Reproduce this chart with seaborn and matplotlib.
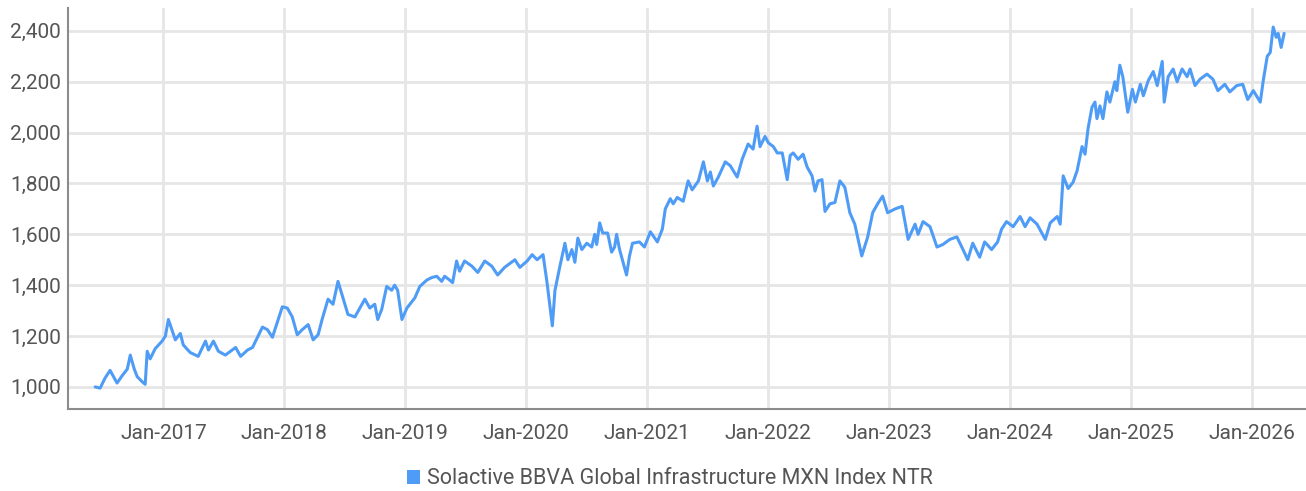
import matplotlib
matplotlib.use("Agg")
import matplotlib.pyplot as plt
import matplotlib.dates as mdates
from matplotlib.patches import Patch
from matplotlib.ticker import FuncFormatter
import numpy as np
import pandas as pd
import seaborn as sns

# ── Data ────────────────────────────────────────────────────────────────────
SERIES_NAME = "Solactive BBVA Global Infrastructure MXN Index NTR"

dates = [
    "2016-06-09", "2016-06-24", "2016-07-09", "2016-07-24", "2016-08-14", "2016-08-30",
    "2016-09-14", "2016-09-23", "2016-10-05", "2016-10-14", "2016-10-29", "2016-11-07",
    "2016-11-13", "2016-11-22", "2016-12-07", "2016-12-28",
    "2017-01-07", "2017-01-16", "2017-02-06", "2017-02-21", "2017-03-02", "2017-03-23",
    "2017-04-16", "2017-05-08", "2017-05-17", "2017-06-01", "2017-06-16", "2017-07-07",
    "2017-08-07", "2017-08-22", "2017-09-12", "2017-09-27", "2017-10-12", "2017-10-27",
    "2017-11-11", "2017-11-26", "2017-12-11", "2017-12-26",
    "2018-01-10", "2018-01-25", "2018-02-09", "2018-02-24", "2018-03-14", "2018-03-29",
    "2018-04-13", "2018-04-25", "2018-05-13", "2018-05-28", "2018-06-12", "2018-06-27",
    "2018-07-12", "2018-08-02", "2018-08-17", "2018-09-01", "2018-09-16", "2018-10-01",
    "2018-10-10", "2018-10-22", "2018-11-06", "2018-11-21", "2018-11-30", "2018-12-09",
    "2018-12-22",
    "2019-01-06", "2019-01-30", "2019-02-14", "2019-03-07", "2019-03-22", "2019-04-06",
    "2019-04-21", "2019-04-30", "2019-05-15", "2019-05-24", "2019-06-05", "2019-06-14",
    "2019-06-29", "2019-07-21", "2019-08-08", "2019-08-29", "2019-09-19", "2019-10-07",
    "2019-10-28", "2019-11-28", "2019-12-13",
    "2020-01-04", "2020-01-19", "2020-02-03", "2020-02-21", "2020-03-04", "2020-03-20",
    "2020-03-28", "2020-04-12", "2020-04-27", "2020-05-06", "2020-05-18", "2020-05-27",
    "2020-06-05", "2020-06-17", "2020-07-02", "2020-07-17", "2020-07-26", "2020-08-01",
    "2020-08-10", "2020-08-19", "2020-09-03", "2020-09-15", "2020-09-24", "2020-09-30",
    "2020-10-09", "2020-10-30", "2020-11-08", "2020-11-17", "2020-12-08", "2020-12-23",
    "2021-01-10", "2021-01-31", "2021-02-15", "2021-02-24", "2021-03-11", "2021-03-20",
    "2021-04-01", "2021-04-19", "2021-05-04", "2021-05-16", "2021-06-04", "2021-06-19",
    "2021-07-01", "2021-07-10", "2021-07-19", "2021-08-03", "2021-08-24", "2021-09-08",
    "2021-09-29", "2021-10-14", "2021-11-01", "2021-11-16", "2021-11-28", "2021-12-07",
    "2021-12-22",
    "2022-01-01", "2022-01-16", "2022-01-28", "2022-02-12", "2022-02-27", "2022-03-08",
    "2022-03-17", "2022-04-01", "2022-04-16", "2022-04-28", "2022-05-13", "2022-05-22",
    "2022-05-31", "2022-06-12", "2022-06-21", "2022-07-06", "2022-07-21", "2022-08-05",
    "2022-08-20", "2022-09-04", "2022-09-19", "2022-10-10", "2022-10-28", "2022-11-12",
    "2022-11-27", "2022-12-12", "2022-12-27",
    "2023-01-19", "2023-02-09", "2023-02-27", "2023-03-20", "2023-03-29", "2023-04-13",
    "2023-05-04", "2023-05-25", "2023-06-12", "2023-07-03", "2023-07-24", "2023-08-08",
    "2023-08-26", "2023-09-10", "2023-10-01", "2023-10-16", "2023-11-06", "2023-11-24",
    "2023-12-06", "2023-12-21",
    "2024-01-10", "2024-01-31", "2024-02-15", "2024-03-01", "2024-03-22", "2024-04-16",
    "2024-05-01", "2024-05-22", "2024-05-31", "2024-06-09", "2024-06-24", "2024-07-09",
    "2024-07-21", "2024-08-05", "2024-08-14", "2024-08-23", "2024-09-04", "2024-09-13",
    "2024-09-19", "2024-09-28", "2024-10-07", "2024-10-19", "2024-10-28", "2024-11-12",
    "2024-11-18", "2024-11-27", "2024-12-06", "2024-12-21",
    "2025-01-04", "2025-01-13", "2025-01-28", "2025-02-06", "2025-02-21", "2025-03-08",
    "2025-03-20", "2025-04-04", "2025-04-10", "2025-04-22", "2025-05-07", "2025-05-19",
    "2025-06-03", "2025-06-18", "2025-06-27", "2025-07-12", "2025-07-27", "2025-08-17",
    "2025-09-04", "2025-09-19", "2025-10-10", "2025-10-25", "2025-11-15", "2025-12-03",
    "2025-12-18",
    "2026-01-04", "2026-01-25", "2026-02-03", "2026-02-15", "2026-02-24", "2026-03-05",
    "2026-03-14", "2026-03-20", "2026-03-29", "2026-04-07",
]

values = [
    1000, 995, 1035, 1065, 1015, 1045,
    1070, 1125, 1070, 1040, 1020, 1010,
    1140, 1110, 1150, 1180,
    1200, 1265, 1185, 1210, 1165, 1135,
    1120, 1180, 1145, 1180, 1140, 1125,
    1155, 1120, 1145, 1155, 1195, 1235,
    1225, 1195, 1255, 1315,
    1310, 1275, 1205, 1225, 1245, 1185,
    1205, 1265, 1345, 1325, 1415, 1350,
    1285, 1275, 1310, 1345, 1310, 1325,
    1265, 1305, 1395, 1380, 1400, 1380,
    1265,
    1310, 1350, 1395, 1420, 1430, 1435,
    1415, 1435, 1420, 1410, 1495, 1455,
    1495, 1475, 1450, 1495, 1475, 1440,
    1470, 1500, 1470,
    1495, 1520, 1500, 1520, 1410, 1240,
    1380, 1475, 1565, 1500, 1540, 1490,
    1585, 1540, 1565, 1550, 1600, 1560,
    1645, 1605, 1605, 1530, 1550, 1600,
    1540, 1440, 1515, 1565, 1570, 1550,
    1610, 1570, 1620, 1700, 1740, 1720,
    1745, 1730, 1810, 1775, 1810, 1885,
    1810, 1845, 1790, 1825, 1885, 1870,
    1825, 1895, 1955, 1935, 2025, 1945,
    1985,
    1960, 1945, 1920, 1920, 1815, 1910,
    1920, 1895, 1915, 1865, 1830, 1770,
    1810, 1815, 1690, 1720, 1725, 1810,
    1785, 1685, 1640, 1515, 1590, 1685,
    1720, 1750, 1685,
    1700, 1710, 1580, 1640, 1600, 1650,
    1630, 1550, 1560, 1580, 1590, 1550,
    1500, 1565, 1510, 1570, 1540, 1570,
    1620, 1650,
    1630, 1670, 1630, 1665, 1640, 1580,
    1645, 1670, 1640, 1830, 1780, 1805,
    1850, 1945, 1915, 2015, 2100, 2120,
    2055, 2105, 2055, 2160, 2120, 2200,
    2165, 2265, 2220, 2080,
    2170, 2120, 2190, 2145, 2205, 2240,
    2185, 2280, 2120, 2220, 2250, 2200,
    2250, 2220, 2250, 2185, 2210, 2230,
    2210, 2165, 2190, 2160, 2185, 2190,
    2130,
    2165, 2120, 2205, 2300, 2315, 2415,
    2375, 2390, 2335, 2390,
]

y_ticks = [1000, 1200, 1400, 1600, 1800, 2000, 2200, 2400]
x_tick_years = [2017, 2018, 2019, 2020, 2021, 2022, 2023, 2024, 2025, 2026]

# ── Styling ─────────────────────────────────────────────────────────────────
LINE_COLOR = "#4f9cf7"
TEXT_COLOR = "#555555"
GRID_COLOR = "#e6e6e6"
SPINE_COLOR = "#8c8c8c"
FONT_SIZE = 15

sns.set_style("white")
plt.rcParams["font.family"] = ["Roboto", "DejaVu Sans"]

df = pd.DataFrame({"date": pd.to_datetime(dates), "value": values})

fig = plt.figure(figsize=(13.06, 4.91), dpi=100)
ax = fig.add_axes([68 / 1306, 1 - 409 / 491, 1 - 68 / 1306, (409 - 8) / 491])

sns.lineplot(data=df, x="date", y="value", ax=ax, color=LINE_COLOR,
             linewidth=2.2, legend=False)

ax.set_xlim(pd.Timestamp("2016-03-19"), pd.Timestamp("2026-06-12"))
ax.set_ylim(913, 2490)

ax.set_xticks([pd.Timestamp(f"{y}-01-01") for y in x_tick_years])
ax.xaxis.set_major_formatter(mdates.DateFormatter("%b-%Y"))
ax.set_yticks(y_ticks)
ax.yaxis.set_major_formatter(FuncFormatter(lambda v, _: f"{v:,.0f}"))

ax.grid(True, color=GRID_COLOR, linewidth=2.0)
ax.set_axisbelow(True)
ax.tick_params(axis="both", length=0, labelsize=FONT_SIZE, colors=TEXT_COLOR)
ax.tick_params(axis="x", pad=11)
ax.tick_params(axis="y", pad=5)
ax.set_xlabel("")
ax.set_ylabel("")

for side in ("top", "right"):
    ax.spines[side].set_visible(False)
for side in ("left", "bottom"):
    ax.spines[side].set_color(SPINE_COLOR)
    ax.spines[side].set_linewidth(1.5)

handle = Patch(facecolor=LINE_COLOR, edgecolor="none", label=SERIES_NAME)
fig.legend(handles=[handle], loc="center", bbox_to_anchor=(670 / 1306, 1 - 479 / 491),
           frameon=False, fontsize=FONT_SIZE + 0.5, labelcolor=TEXT_COLOR,
           handlelength=0.6, handleheight=0.6, handletextpad=0.3)

fig.savefig("out.png", dpi=100)
